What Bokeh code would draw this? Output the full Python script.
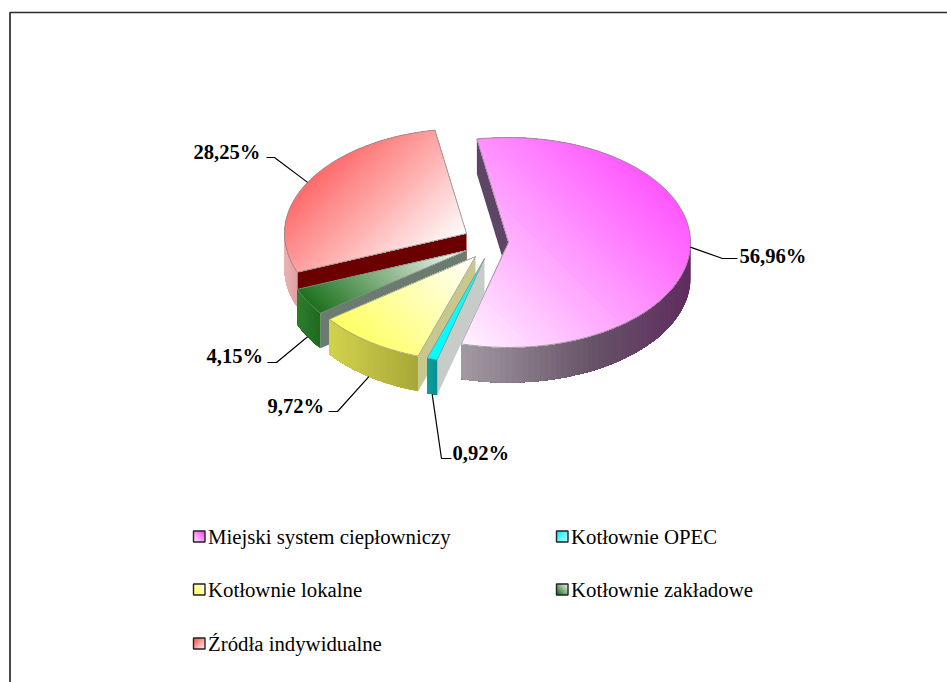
import numpy as np
from bokeh.plotting import figure
from bokeh.core.properties import value
from bokeh.embed import file_html
from bokeh.resources import INLINE

# ---- data
categories = ["Miejski system ciepłowniczy", "Kotłownie OPEC", "Kotłownie lokalne",
              "Kotłownie zakładowe", "Źródła indywidualne"]
shares = [56.96, 0.92, 9.72, 4.15, 28.25]
share_labels = ["56,96%", "0,92%", "9,72%", "4,15%", "28,25%"]

# ---- styling / layout (picture pixel coordinates)
W, H = 947, 682
START_DEG = 100.0
RX, RY, DEPTH = 182.0, 105.0, 35.0
apex = [(508, 242), (484, 258), (475, 256), (466, 250), (466, 233)]
face_from = ["#ff40ff", "#00ffff", "#ffff4d", "#1a6f1a", "#ff5050"]
face_to = ["#fff4ff", "#00ffff", "#ffffff", "#ffffff", "#ffffff"]
grad_dir = [(-1, 1), (1, -1), (1, -1), (1, -1), (1, 1)]
grad_lo = [0.13, 0.0, 0.12, 0.02, 0.16]
wall_stops = [
    [(460, "#a39ba3"), (590, "#675468"), (690, "#5f2c5f")],
    [(427, "#0fa0a0"), (437, "#0c8f8f")],
    [(329, "#d2d24e"), (417, "#a8a838")],
    [(297, "#2f7f2f"), (320, "#1f6a1f")],
    [(284, "#eab4b4"), (297, "#dfa0a0")],
]
side_col = ["#5e4566", "#c6ccc8", "#c8c88e", "#6b7b6f", "#6b0000"]
label_xy = [(739, 255), (452, 452), (267, 405), (206, 355), (193, 151)]
label_elbow = [[(722, 258), (737, 258)], [(441, 458), (451, 458)],
               [(337, 411), (328, 411)], [(276, 362), (267, 362)],
               [(274, 157), (266, 157)]]
label_low = [False, True, True, True, False]
legend_xy = [(193, 536), (556, 536), (193, 589), (556, 589), (193, 643)]


def hex2rgb(h):
    return np.array([int(h[i:i + 2], 16) for i in (1, 3, 5)], float)


def rgb2hex(c):
    return "#%02x%02x%02x" % tuple(int(round(v)) for v in c)


def mix(a, b, t):
    return rgb2hex(hex2rgb(a) * (1 - t) + hex2rgb(b) * t)


def clip(poly, n, d):
    out = []
    k = len(poly)
    for i in range(k):
        p, q = poly[i], poly[(i + 1) % k]
        sp, sq = p[0] * n[0] + p[1] * n[1] - d, q[0] * n[0] + q[1] * n[1] - d
        if sp >= 0:
            out.append(p)
        if (sp >= 0) != (sq >= 0):
            u = sp / (sp - sq)
            out.append((p[0] + u * (q[0] - p[0]), p[1] + u * (q[1] - p[1])))
    return out


xs, ys, cols = [], [], []


def add(poly, col):
    if len(poly) >= 3:
        xs.append([v[0] for v in poly])
        ys.append([v[1] for v in poly])
        cols.append(col)


def gradient(poly, c0, c1, direction, lo=0.0, steps=48):
    P = np.array(poly)
    n = np.array(direction, float)
    n /= np.hypot(*n)
    s = P @ n
    a, b = s.min(), s.max()
    add(poly, mix(c0, c1, lo))
    for i in range(1, steps):
        t = i / steps
        add(clip(poly, n, a + t * (b - a)), mix(c0, c1, lo + (1 - lo) * t))


def wall_color(stops, x):
    px = [s[0] for s in stops]
    u = np.interp(x, px, np.arange(len(px)))
    i = min(int(u), len(px) - 2)
    return mix(stops[i][1], stops[i + 1][1], u - i)


ends = START_DEG - np.cumsum(shares) / np.sum(shares) * 360.0
starts = np.concatenate([[START_DEG], ends[:-1]])

p = figure(width=W, height=H, x_range=(0, W), y_range=(H, 0), output_backend="svg",
           toolbar_location=None, x_axis_location=None, y_axis_location=None,
           min_border=0, outline_line_color=None, background_fill_color="white")
p.grid.visible = False

# frame: only the left and top edges are inside the picture
p.line([9.5, 9.5, W], [H, 12, 12], line_color="#2a2a2a", line_width=1.7)

lx, ly = [], []
for idx in [0, 4, 3, 2, 1]:
    xs, ys, cols = [], [], []
    ax, ay = apex[idx]
    phi = np.radians(np.linspace(starts[idx], ends[idx], 90))
    arc = [(ax + RX * np.cos(f), ay - RY * np.sin(f)) for f in phi]
    # radial wall at the start edge
    add([(ax, ay), arc[0], (arc[0][0], arc[0][1] + DEPTH), (ax, ay + DEPTH)], side_col[idx])
    # outer wall: only the front half of the rim, painted from right to left
    lo_d, hi_d = max(ends[idx], -180.0), min(starts[idx], 0.0)
    if hi_d > lo_d:
        deg = np.linspace(hi_d, lo_d, 60)
        wall_arc = [(ax + RX * np.cos(np.radians(d)), ay - RY * np.sin(np.radians(d))) for d in deg]
        for i in range(len(wall_arc) - 1):
            rest = wall_arc[i:]
            c = wall_color(wall_stops[idx], (rest[0][0] + rest[1][0]) / 2)
            add(rest + [(v[0], v[1] + DEPTH) for v in rest[::-1]], c)
    face = [(ax, ay)] + arc
    if face_from[idx] == face_to[idx]:
        add(face, face_from[idx])
    else:
        gradient(face, face_from[idx], face_to[idx], grad_dir[idx], grad_lo[idx])
    p.patches(xs, ys, fill_color=cols, line_color=None)
    loop = [(ax, ay)] + arc + [(ax, ay)]
    p.line([v[0] for v in loop], [v[1] for v in loop], line_color="#8a8a8a", line_width=0.8)
    # leader
    mid = np.radians((starts[idx] + ends[idx]) / 2)
    sx, sy = ax + RX * np.cos(mid), ay - RY * np.sin(mid) + (DEPTH if label_low[idx] else 0)
    lx.append([sx] + [e[0] for e in label_elbow[idx]])
    ly.append([sy] + [e[1] for e in label_elbow[idx]])

p.multi_line(lx, ly, line_color="black", line_width=1.2)

p.text([v[0] for v in label_xy], [v[1] for v in label_xy], text=share_labels,
       text_font=value("Liberation Serif"), text_font_style="bold", text_font_size="20.6px",
       text_baseline="middle", text_color="black")

# legend
xs, ys, cols = [], [], []
for i, (lxx, lyy) in enumerate(legend_xy):
    box = [(lxx, lyy - 5.5), (lxx + 11.5, lyy - 5.5), (lxx + 11.5, lyy + 5.5), (lxx, lyy + 5.5)]
    if face_from[i] == face_to[i]:
        gradient(box, "#00f0f0", "#c8ffff", (1, 1), 0, 10)
    else:
        gradient(box, face_from[i], face_to[i], grad_dir[i], 0, 10)
p.patches(xs, ys, fill_color=cols, line_color=None)
p.quad(left=[v[0] for v in legend_xy], right=[v[0] + 11.5 for v in legend_xy],
       top=[v[1] - 5.5 for v in legend_xy], bottom=[v[1] + 5.5 for v in legend_xy],
       fill_color=None, line_color="#222222", line_width=1.4)
p.text([v[0] + 14.5 for v in legend_xy], [v[1] for v in legend_xy], text=categories,
       text_font=value("Liberation Serif"), text_font_size="20.8px",
       text_baseline="middle", text_color="black")

open("out.html", "w").write(file_html(p, INLINE))
